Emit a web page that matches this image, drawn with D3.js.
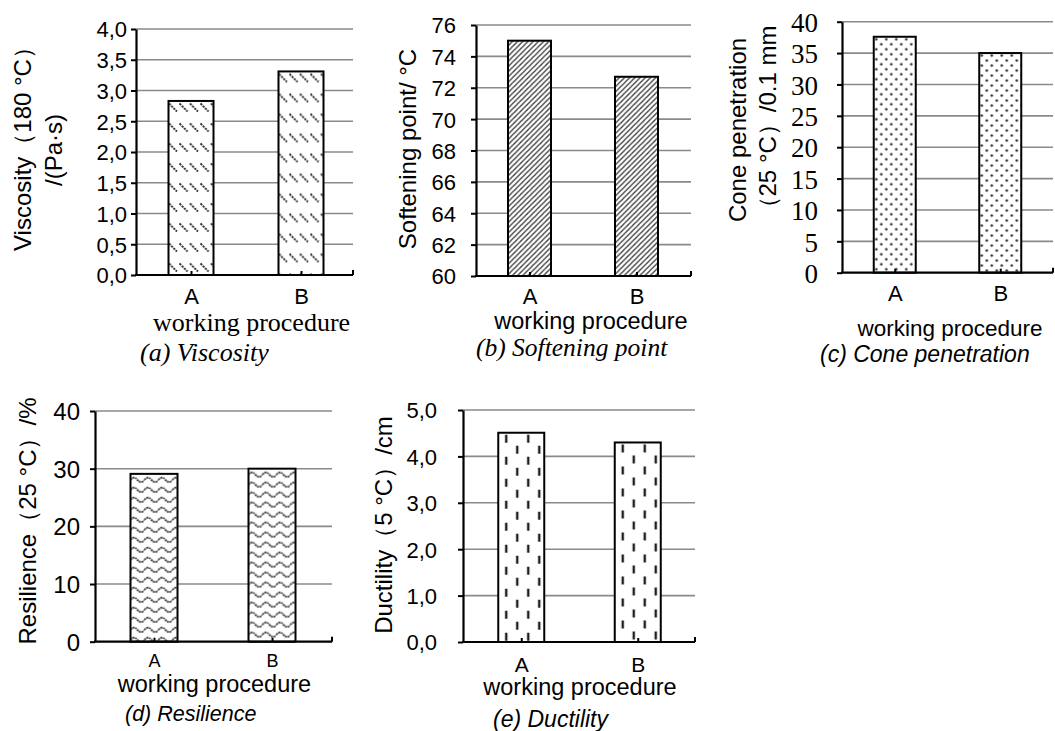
<!DOCTYPE html>
<html>
<head>
<meta charset="utf-8">
<script src="https://cdn.jsdelivr.net/npm/d3@7/dist/d3.min.js"></script>
<style>
  html, body { margin: 0; padding: 0; background: #fff; }
  svg { display: block; }
</style>
</head>
<body>
<svg id="chart" width="1055" height="731"></svg>
<script>
// Asphalt binder properties for working procedures A and B
const categories = ["A", "B"];
const viscosity = [2.83, 3.31];      // Pa·s at 180 °C
const softening = [75.0, 72.7];      // °C
const penetration = [37.6, 35.0];    // 0.1 mm at 25 °C
const resilience = [29.1, 30.0];     // % at 25 °C
const ductility = [4.51, 4.30];      // cm at 5 °C

const viscosityTicks = [0, 0.5, 1, 1.5, 2, 2.5, 3, 3.5, 4];
const softeningTicks = [60, 62, 64, 66, 68, 70, 72, 74, 76];
const penetrationTicks = [0, 5, 10, 15, 20, 25, 30, 35, 40];
const resilienceTicks = [0, 10, 20, 30, 40];
const ductilityTicks = [0, 1, 2, 3, 4, 5];

const SANS = "'Liberation Sans', Arial, sans-serif";
const SERIF = "'Liberation Serif', 'Times New Roman', serif";

const commaLocale = d3.formatLocale({ decimal: ",", thousands: ".", grouping: [3], currency: ["", ""] });
const fmtComma = commaLocale.format(".1f");
const fmtInt = d3.format("d");

const svg = d3.select("#chart");
const defs = svg.append("defs");

// fill pattern builders; each pattern is anchored at the bar's own corner
const patternMakers = {
  dashDiag(p) {
    p.attr("width", 10.5).attr("height", 20);
    p.append("path").attr("d", "M0.5,2.5 L8.5,10.5")
      .attr("stroke", "#222").attr("stroke-width", 1.8).attr("stroke-dasharray", "2.2,1");
  },
  hatch(p) {
    p.attr("width", 5.2).attr("height", 5.2);
    p.append("path").attr("d", "M-1.3,1.3 L1.3,-1.3 M0,5.2 L5.2,0 M3.9,6.5 L6.5,3.9")
      .attr("stroke", "#3c3c3c").attr("stroke-width", 1.35);
  },
  dots(p) {
    p.attr("width", 10).attr("height", 10);
    [[2.5, 2.5], [7.5, 7.5]].forEach(([cx, cy]) =>
      p.append("circle").attr("cx", cx).attr("cy", cy).attr("r", 1.25).attr("fill", "#2a2a2a"));
  },
  waves(p) {
    p.attr("width", 14).attr("height", 10);
    p.append("path").attr("d", "M0,6 Q3.5,1.5 7,6 T14,6")
      .attr("fill", "none").attr("stroke", "#222").attr("stroke-width", 1.8)
      .attr("stroke-dasharray", "1.8,0.9");
  },
  vdash(p) {
    p.attr("width", 22).attr("height", 22);
    p.append("path").attr("d", "M8,2 V10 M19,13 V21")
      .attr("stroke", "#1e1e1e").attr("stroke-width", 2.4);
  }
};

// layout of each small multiple
const panels = [
  {
    id: "a", values: viscosity, ticks: viscosityTicks, domain: [0, 4], fmt: fmtComma,
    left: 136, right: 356, gridRight: 353, top: 29, bottom: 275, barW: 45,
    tickFont: SANS, tickSize: 22, tickX: 127,
    pattern: "dashDiag",
    titleLines: [{ text: "Viscosity（180 °C）", x: 22, y: 143 }, { text: "/(Pa·s)", x: 53, y: 150 }],
    catY: 304, catSize: 22,
    xTitle: { text: "working procedure", x: 153, anchor: "start", y: 331, font: SERIF, size: 26 },
    caption: { text: "(a) Viscosity", x: 140, y: 361, font: SERIF, size: 26 }
  },
  {
    id: "b", values: softening, ticks: softeningTicks, domain: [60, 76], fmt: fmtInt,
    left: 476, right: 690, gridRight: 691, top: 25, bottom: 276, barW: 43,
    tickFont: SANS, tickSize: 22, tickX: 456,
    pattern: "hatch",
    titleLines: [{ text: "Softening point/ °C", x: 407, y: 149 }],
    catY: 304, catSize: 22,
    xTitle: { text: "working procedure", x: 591, anchor: "middle", y: 329, font: SANS, size: 23.5 },
    caption: { text: "(b) Softening point", x: 476, y: 356, font: SERIF, size: 25.5 }
  },
  {
    id: "c", values: penetration, ticks: penetrationTicks, domain: [0, 40], fmt: fmtInt,
    left: 842, right: 1053, gridRight: 1053, top: 21.7, bottom: 272.7, barW: 42,
    tickFont: SERIF, tickSize: 27, tickX: 818,
    pattern: "dots",
    titleLines: [{ text: "Cone penetration", x: 737, y: 130 }, { text: "（25 °C）/0.1 mm", x: 767, y: 123 }],
    catY: 301, catSize: 22,
    xTitle: { text: "working procedure", x: 950, anchor: "middle", y: 336, font: SANS, size: 22.5 },
    caption: { text: "(c) Cone penetration", x: 820, y: 362, font: SANS, size: 23 }
  },
  {
    id: "d", values: resilience, ticks: resilienceTicks, domain: [0, 40], fmt: fmtInt,
    left: 95, right: 331, gridRight: 332, top: 411, bottom: 641.7, barW: 47,
    tickFont: SANS, tickSize: 24, tickX: 80,
    pattern: "waves",
    titleLines: [{ text: "Resilience（25 °C）/%", x: 27, y: 521 }],
    catY: 667, catSize: 18,
    xTitle: { text: "working procedure", x: 214.5, anchor: "middle", y: 692, font: SANS, size: 23.5 },
    caption: { text: "(d) Resilience", x: 125, y: 721, font: SANS, size: 21.5 }
  },
  {
    id: "e", values: ductility, ticks: ductilityTicks, domain: [0, 5], fmt: fmtComma,
    left: 463, right: 696, gridRight: 695, top: 410, bottom: 642, barW: 46,
    tickFont: SANS, tickSize: 22, tickX: 437,
    pattern: "vdash",
    titleLines: [{ text: "Ductility（5 °C）/cm", x: 383, y: 525 }],
    catY: 672, catSize: 21,
    xTitle: { text: "working procedure", x: 580, anchor: "middle", y: 695, font: SANS, size: 23.5 },
    caption: { text: "(e) Ductility", x: 493, y: 727, font: SANS, size: 23 }
  }
];

panels.forEach(P => {
  const g = svg.append("g").attr("class", "panel-" + P.id);
  const y = d3.scaleLinear().domain(P.domain).range([P.bottom, P.top]);
  const x = d3.scalePoint().domain(categories).range([P.left, P.right]).padding(0.5);
  const rows = categories.map((c, i) => ({ cat: c, value: P.values[i] }));

  // horizontal gridlines
  g.append("g").selectAll("line")
    .data(P.ticks.filter(t => t !== P.domain[0]))
    .join("line")
    .attr("x1", P.left).attr("x2", P.gridRight)
    .attr("y1", d => y(d)).attr("y2", d => y(d))
    .attr("stroke", "#8a8a8a").attr("stroke-width", 1.6);

  // bar fill patterns, one per bar so the texture starts at the bar edge
  rows.forEach((d, i) => {
    const bx = x(d.cat) - P.barW / 2;
    const p = defs.append("pattern")
      .attr("id", `pat-${P.id}-${i}`)
      .attr("patternUnits", "userSpaceOnUse")
      .attr("x", bx).attr("y", y(d.value));
    patternMakers[P.pattern](p);
  });

  const bars = g.append("g").selectAll("g").data(rows).join("g");
  bars.append("rect")
    .attr("x", d => x(d.cat) - P.barW / 2).attr("y", d => y(d.value))
    .attr("width", P.barW).attr("height", d => P.bottom - y(d.value))
    .attr("fill", "#fff");
  bars.append("rect")
    .attr("x", d => x(d.cat) - P.barW / 2).attr("y", d => y(d.value))
    .attr("width", P.barW).attr("height", d => P.bottom - y(d.value))
    .attr("fill", (d, i) => `url(#pat-${P.id}-${i})`)
    .attr("stroke", "#000").attr("stroke-width", 2);

  // value axis
  const yAxis = g.append("g").attr("transform", `translate(${P.left},0)`)
    .call(d3.axisLeft(y).tickValues(P.ticks).tickFormat(P.fmt).tickSize(5).tickSizeOuter(0));
  yAxis.select(".domain").attr("stroke", "#000").attr("stroke-width", 2.2);
  yAxis.selectAll(".tick line").attr("stroke", "#000").attr("stroke-width", 2);
  yAxis.selectAll(".tick text")
    .attr("x", P.tickX - P.left).attr("dy", "0.36em")
    .attr("font-family", P.tickFont).attr("font-size", P.tickSize).attr("fill", "#000");

  // category axis
  const xAxis = g.append("g").attr("transform", `translate(0,${P.bottom})`)
    .call(d3.axisBottom(x).tickSize(-4).tickSizeOuter(0));
  xAxis.select(".domain").attr("d", `M${P.left - 1},0H${P.gridRight}`)
    .attr("stroke", "#000").attr("stroke-width", 2.2);
  xAxis.selectAll(".tick line").attr("stroke", "#000").attr("stroke-width", 2);
  xAxis.selectAll(".tick text")
    .attr("y", P.catY - P.bottom).attr("dy", 0)
    .attr("font-family", SANS).attr("font-size", P.catSize).attr("fill", "#000");
  xAxis.append("line")
    .attr("x1", P.gridRight).attr("x2", P.gridRight).attr("y1", 0).attr("y2", -5)
    .attr("stroke", "#000").attr("stroke-width", 2);

  // rotated value-axis title
  P.titleLines.forEach(t => {
    g.append("text")
      .attr("transform", `translate(${t.x},${t.y}) rotate(-90)`)
      .attr("text-anchor", "middle").attr("dominant-baseline", "central")
      .attr("font-family", SANS).attr("font-size", 24).attr("fill", "#000")
      .text(t.text);
  });

  // category-axis title
  g.append("text")
    .attr("x", P.xTitle.x).attr("y", P.xTitle.y)
    .attr("text-anchor", P.xTitle.anchor)
    .attr("font-family", P.xTitle.font).attr("font-size", P.xTitle.size).attr("fill", "#000")
    .text(P.xTitle.text);

  // panel caption
  g.append("text")
    .attr("x", P.caption.x).attr("y", P.caption.y)
    .attr("font-family", P.caption.font).attr("font-style", "italic")
    .attr("font-size", P.caption.size).attr("fill", "#000")
    .text(P.caption.text);
});
</script>
</body>
</html>
